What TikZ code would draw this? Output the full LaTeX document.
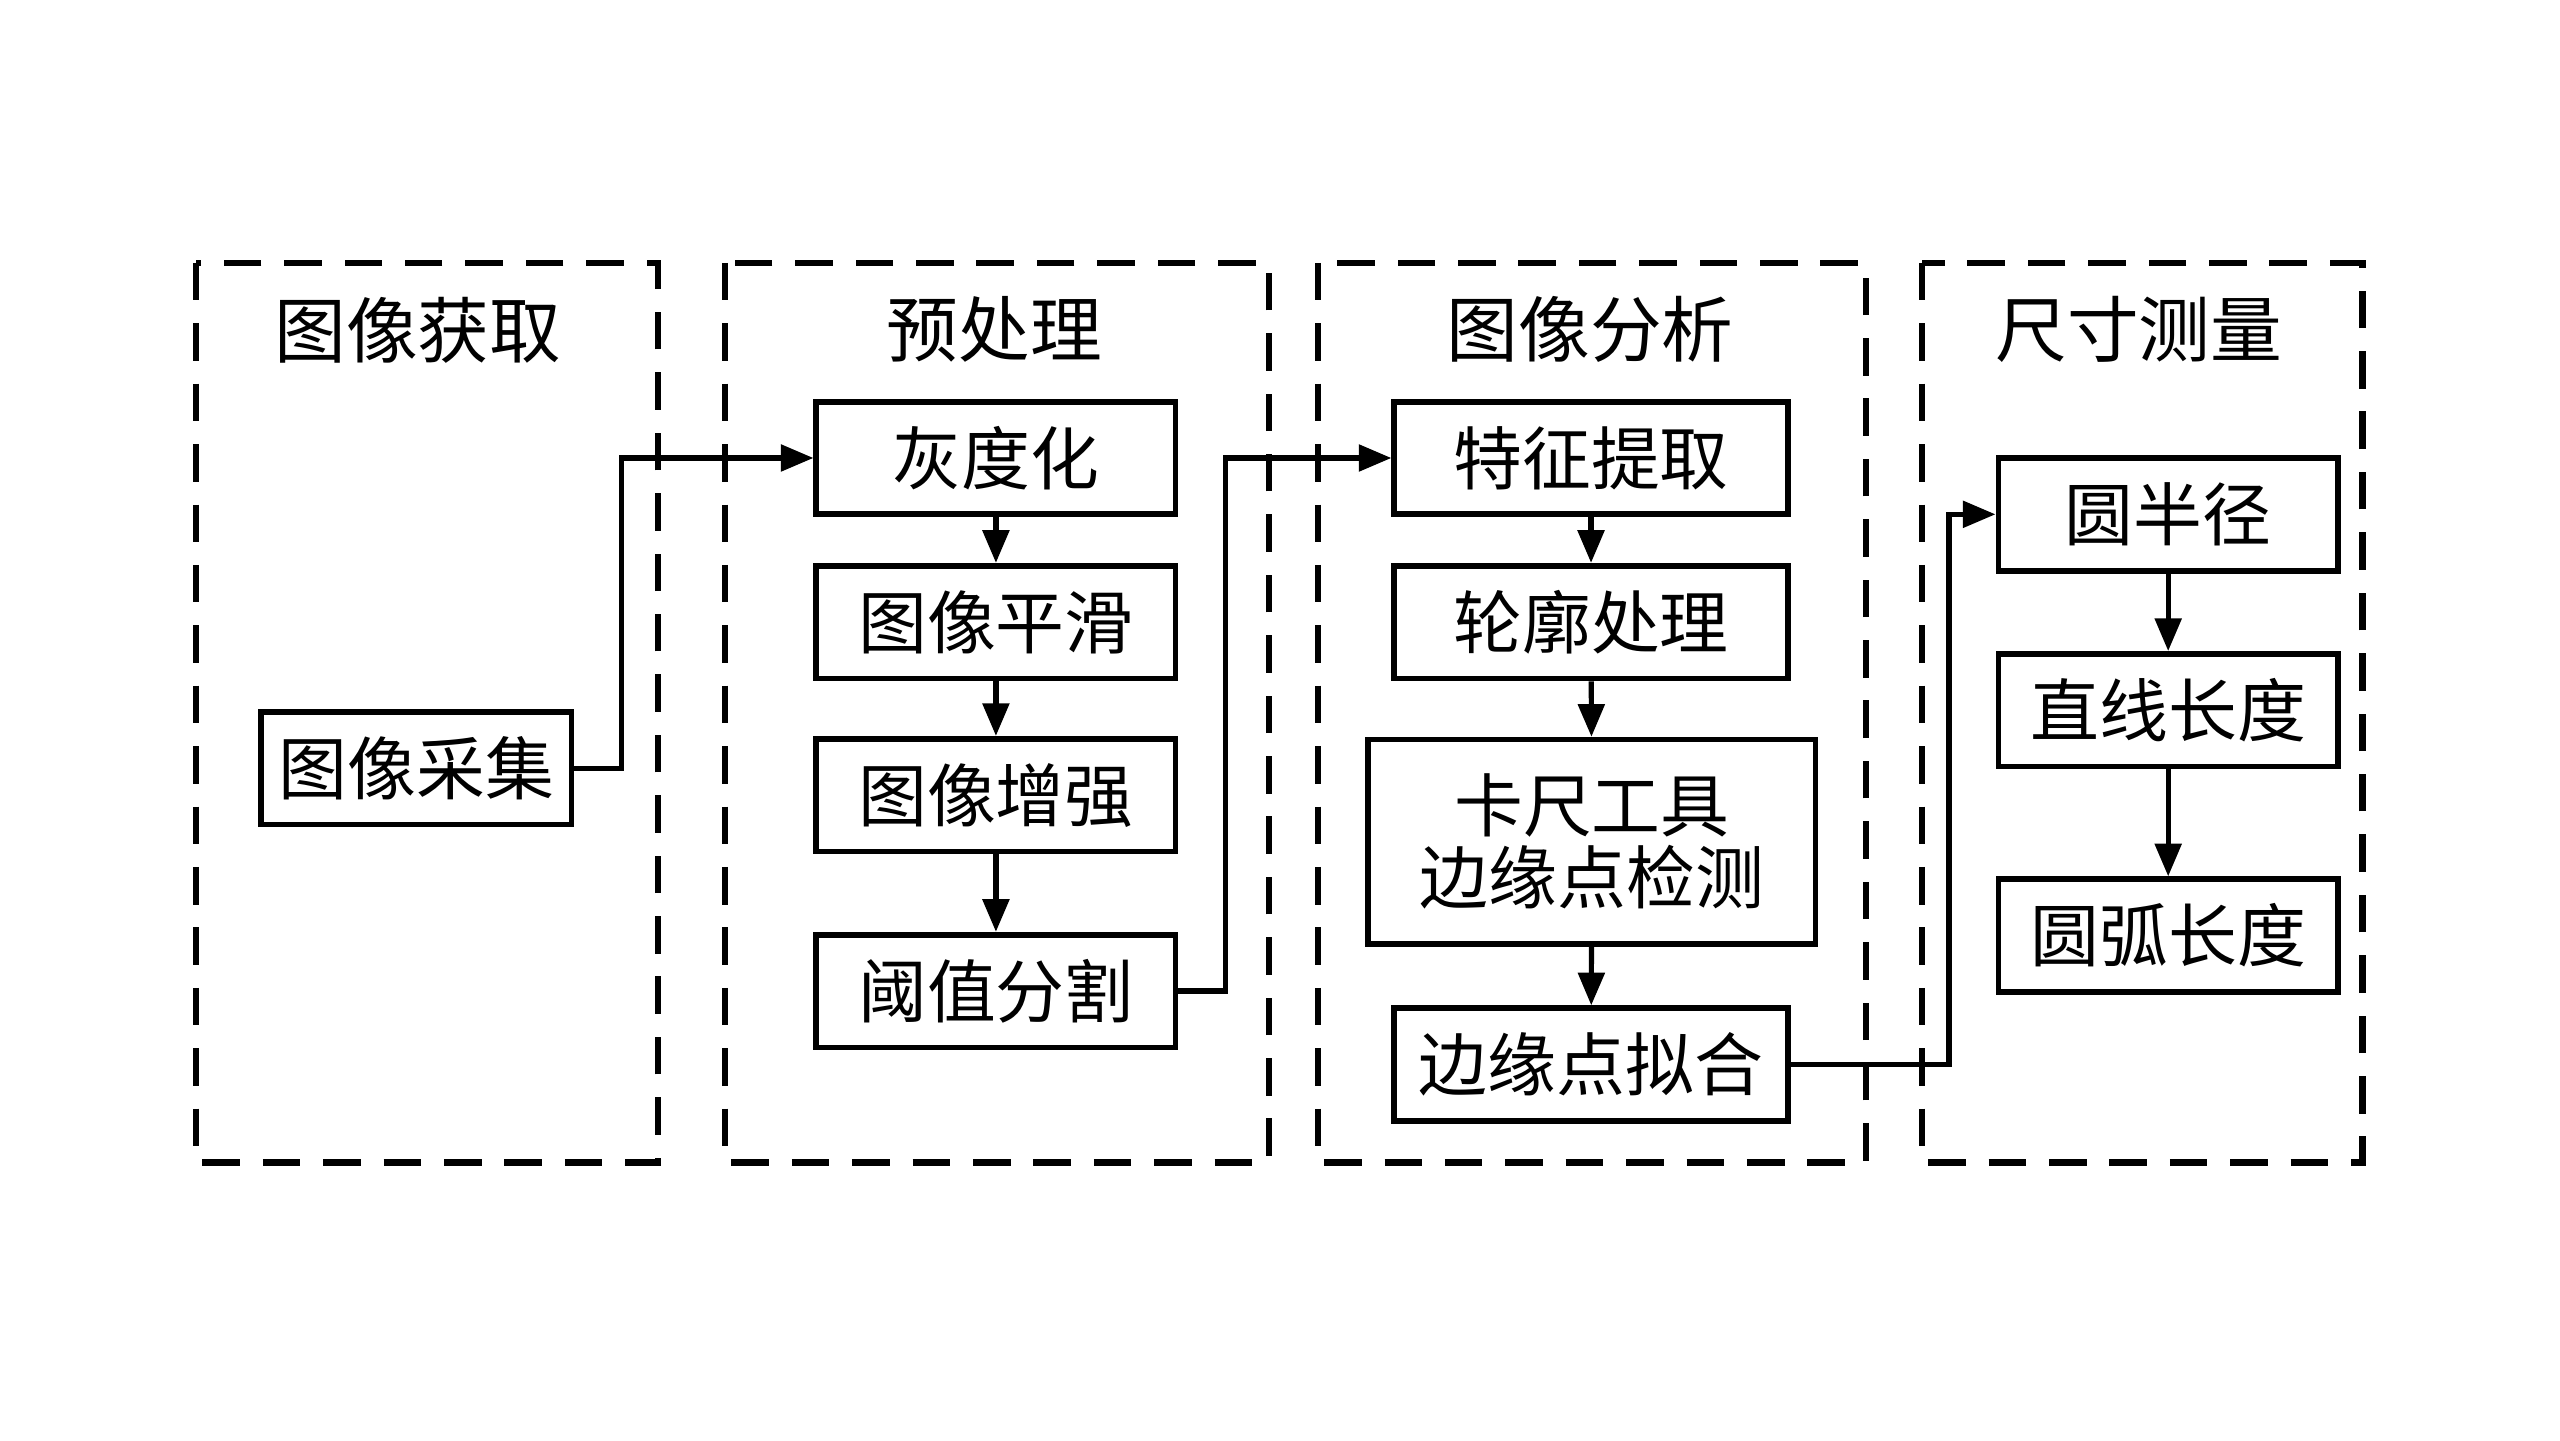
\documentclass[tikz,border=0pt]{standalone}
\usepackage{fontspec}
\newfontfamily\cjk{Noto Sans CJK SC}
\usetikzlibrary{arrows.meta, positioning}

\begin{document}
\begin{tikzpicture}[
    box/.style={draw, line width=1pt, minimum height=0.69cm, inner sep=0pt, align=center,
      font=\cjk\fontsize{12}{12.5}\selectfont},
    group/.style={draw, line width=1.05pt, dash pattern=on 0.23cm off 0.14cm},
    grouptitle/.style={font=\cjk\fontsize{12.5}{14}\selectfont},
    flow/.style={-{Triangle[length=2mm,width=1.6mm]}, line width=0.9pt}]
    \useasboundingbox (0,0) rectangle (15.68,-8.82);

    % Dashed stage frames
    \draw[group] (1.20,-1.61) rectangle (4.03,-7.12);
    \draw[group] (4.44,-1.61) rectangle (7.77,-7.12);
    \draw[group] (8.07,-1.61) rectangle (11.43,-7.12);
    \draw[group] (11.77,-1.61) rectangle (14.47,-7.12);

    % Stage titles
    \node[grouptitle] (t1) at (2.56,-2.02) {图像获取};
    \node[grouptitle] (t2) at (6.09,-2.02) {预处理};
    \node[grouptitle] (t3) at (9.74,-2.02) {图像分析};
    \node[grouptitle] (t4) at (13.10,-2.02) {尺寸测量};

    % Image acquisition
    \node[box, minimum width=1.90cm] (caiji) at (2.55,-4.705) {图像采集};

    % Preprocessing
    \node[box, minimum width=2.20cm] (huidu) at (6.10,-2.805) {灰度化};
    \node[box, minimum width=2.20cm] (pinghua) at (6.10,-3.81) {图像平滑};
    \node[box, minimum width=2.20cm] (zengqiang) at (6.10,-4.87) {图像增强};
    \node[box, minimum width=2.20cm] (fenge) at (6.10,-6.07) {阈值分割};

    % Image analysis
    \node[box, minimum width=2.41cm] (tezheng) at (9.745,-2.805) {特征提取};
    \node[box, minimum width=2.41cm] (lunkuo) at (9.745,-3.81) {轮廓处理};
    \node[box, minimum width=2.74cm, minimum height=1.25cm] (kachi) at (9.75,-5.155) {卡尺工具\\边缘点检测};
    \node[box, minimum width=2.41cm] (nihe) at (9.745,-6.52) {边缘点拟合};

    % Dimension measurement
    \node[box, minimum width=2.08cm] (banjing) at (13.28,-3.15) {圆半径};
    \node[box, minimum width=2.08cm] (zhixian) at (13.28,-4.35) {直线长度};
    \node[box, minimum width=2.08cm] (yuanhu) at (13.28,-5.73) {圆弧长度};

    % Connectors
    \draw[flow] (caiji.east) -- ++(0.29,0) |- (huidu.west);
    \draw[flow] (huidu) -- (pinghua);
    \draw[flow] (pinghua) -- (zengqiang);
    \draw[flow] (zengqiang) -- (fenge);
    \draw[flow] (fenge.east) -- ++(0.29,0) |- (tezheng.west);
    \draw[flow] (tezheng) -- (lunkuo);
    \draw[flow] (lunkuo) -- (kachi);
    \draw[flow] (kachi) -- (nihe);
    \draw[flow] (nihe.east) -- ++(0.97,0) |- (banjing.west);
    \draw[flow] (banjing) -- (zhixian);
    \draw[flow] (zhixian) -- (yuanhu);
\end{tikzpicture}
\end{document}
